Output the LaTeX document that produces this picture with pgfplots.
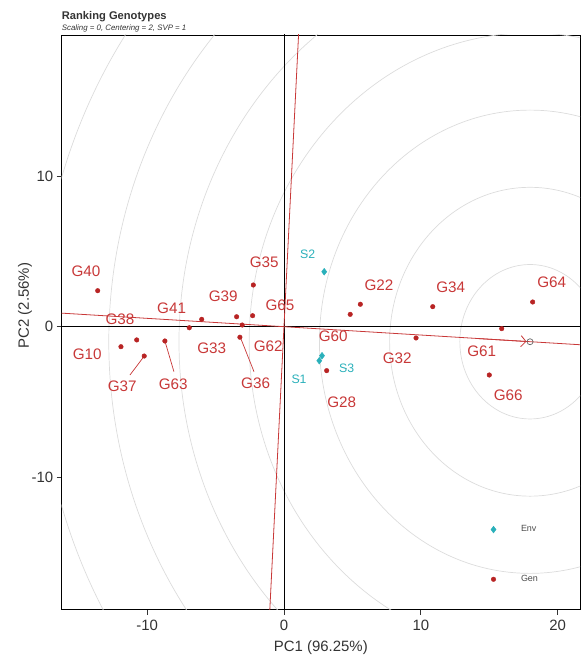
\documentclass[border=0pt]{standalone}
\usepackage{pgfplots}
\pgfplotsset{compat=1.18}
\usepackage{pgfplotstable}
\usepackage{fontspec}
\setmainfont{Liberation Sans}
\usetikzlibrary{arrows.meta}

\definecolor{genred}{RGB}{200,56,56}
\definecolor{gendot}{RGB}{184,36,36}
\definecolor{envcyan}{RGB}{42,176,186}
\definecolor{ringgray}{RGB}{220,220,220}

% genotype scores (x, y) and label positions (lx, ly)
\pgfplotstableread{
x      y      lx      ly     name
-13.61  2.39  -14.47   3.65  G40
-6.01   0.49  -8.21    1.22  G41
-6.92  -0.07  -5.28   -1.44  G33
-3.46   0.66  -4.44    1.99  G39
-3.05   0.11  -1.15   -1.33  G62
-2.29   0.73  -0.29    1.44  G65
-2.24   2.77  -1.44    4.25  G35
-3.22  -0.70  -2.07   -3.76  G36
-11.91 -1.33  -14.37  -1.81  G10
-10.76 -0.88  -11.98   0.49  G38
-10.21 -1.95  -11.82  -3.94  G37
-8.70  -0.95  -8.09   -3.81  G63
5.58    1.49   6.94    2.77  G22
4.84    0.82   3.60   -0.62  G60
10.87   1.33   12.18   2.59  G34
18.17   1.64   19.56   2.92  G64
15.91  -0.13   14.45  -1.66  G61
9.65   -0.75   8.28   -2.10  G32
15.00  -3.21   16.39  -4.54  G66
3.12   -2.92   4.22   -5.02  G28
}\gentab

% environment scores
\pgfplotstableread{
x     y      lx     ly     name
2.94  3.65   1.73   4.83   S2
2.58 -2.26   1.10  -3.50   S1
2.78 -1.93   4.58  -2.76   S3
}\envtab

\pgfplotsset{
  dotlegend/.style={legend image code/.code={%
      \path[draw=none, fill=none] (0bp,-3bp) rectangle (29bp,3bp);
      \draw[##1] plot coordinates {(3.5bp,0bp)};}},
  labelplot/.style={only marks, mark=*, mark size=0.01pt,
      mark options={draw=none, fill=none}, forget plot,
      nodes near coords, point meta=explicit symbolic,
      nodes near coords style={anchor=center, inner sep=0pt, #1}},
}

\begin{document}
\begin{tikzpicture}
\begin{axis}[
  scale only axis,
  width=518.3bp, height=574.5bp,
  xmin=-16.24, xmax=21.63, ymin=-18.79, ymax=19.38,
  axis line style={black, line width=0.9bp},
  xtick={-10,0,10,20}, ytick={-10,0,10},
  xtick pos=bottom, ytick pos=left,
  tick align=outside, major tick length=5bp,
  tick style={black!80, line width=0.8bp},
  ticklabel style={font=\fontsize{15}{16}\selectfont, text=black!80},
  xticklabel style={yshift=-2bp},
  /pgf/number format/assume math mode=true,
  xlabel={PC1 (96.25\%)}, ylabel={PC2 (2.56\%)},
  label style={font=\fontsize{15}{16}\selectfont, text=black!80},
  xlabel style={at={(rel axis cs:0.5,-0.0655)}, anchor=center},
  ylabel style={at={(rel axis cs:-0.0708,0.529)}, anchor=center},
  legend style={draw=none, fill=none, inner sep=0pt,
    at={(axis cs:15.04,-13.08)}, anchor=north west,
    font=\fontsize{9}{10}\selectfont, text=black!70,
    row sep=38bp, cells={anchor=west}},
]
  % concentric rings around the ideal genotype
  \pgfplotsinvokeforeach{5.13,10.26,15.39,20.52,25.65,30.78,35.91,41.04}{
    \draw[ringgray, line width=0.7bp] (axis cs:17.98,-1.0) ellipse [x radius=#1, y radius=#1];
  }
  % zero lines
  \draw[black, line width=0.8bp] (axis cs:0,-30) -- (axis cs:0,30);
  \draw[black, line width=0.8bp] (axis cs:-30,0) -- (axis cs:30,0);

  % average environment axis and its perpendicular
  \addplot[genred, line width=0.8bp, forget plot] coordinates {(-18,0.998) (23,-1.275)};
  \addplot[genred, line width=0.8bp, forget plot] coordinates {(-1.10,-20) (1.10,20)};
  \addplot[genred, line width=0.8bp, forget plot,
    -{Straight Barb[length=5bp,width=11bp,line width=0.8bp]}]
    coordinates {(14.0,-0.779) (17.72,-0.985)};
  \addplot[only marks, mark=o, mark size=3bp, black!60,
    mark options={line width=0.7bp}, forget plot] coordinates {(17.98,-1.0)};

  % leader lines to displaced labels
  \addplot[genred, line width=0.7bp, forget plot] coordinates {(-3.16,-0.77) (-2.19,-2.99)};
  \addplot[genred, line width=0.7bp, forget plot] coordinates {(-10.21,-1.95) (-11.25,-3.21)};
  \addplot[genred, line width=0.7bp, forget plot] coordinates {(-8.70,-0.95) (-8.04,-2.99)};

  % points
  \addplot[only marks, mark=diamond*, mark size=3.4bp, envcyan,
    mark options={draw=envcyan, fill=envcyan}, dotlegend] table[x=x,y=y] {\envtab};
  \addlegendentry{Env}
  \addplot[only marks, mark=*, mark size=2.3bp, gendot,
    mark options={draw=gendot, fill=gendot}, dotlegend] table[x=x,y=y] {\gentab};
  \addlegendentry{Gen}

  % labels
  \addplot[labelplot={text=genred, font=\fontsize{15.3}{16}\selectfont}]
    table[x=lx,y=ly,meta=name] {\gentab};
  \addplot[labelplot={text=envcyan, font=\fontsize{12.3}{13}\selectfont}]
    table[x=lx,y=ly,meta=name] {\envtab};

  \coordinate (tl) at (rel axis cs:0,1);
  \coordinate (bl) at (rel axis cs:0,0);
\end{axis}
\node[anchor=base west, inner sep=0pt, text=black!80,
  font=\bfseries\fontsize{11.2}{12}\selectfont] at ([yshift=15.5bp]tl) {Ranking Genotypes};
\node[anchor=base west, inner sep=0pt, text=black!80,
  font=\itshape\fontsize{7.9}{9}\selectfont] at ([yshift=4bp]tl) {Scaling = 0, Centering = 2, SVP = 1};
\pgfresetboundingbox
\path (bl) ++(-61.7bp,-45.5bp) rectangle ++(582bp,655bp);
\end{tikzpicture}
\end{document}
